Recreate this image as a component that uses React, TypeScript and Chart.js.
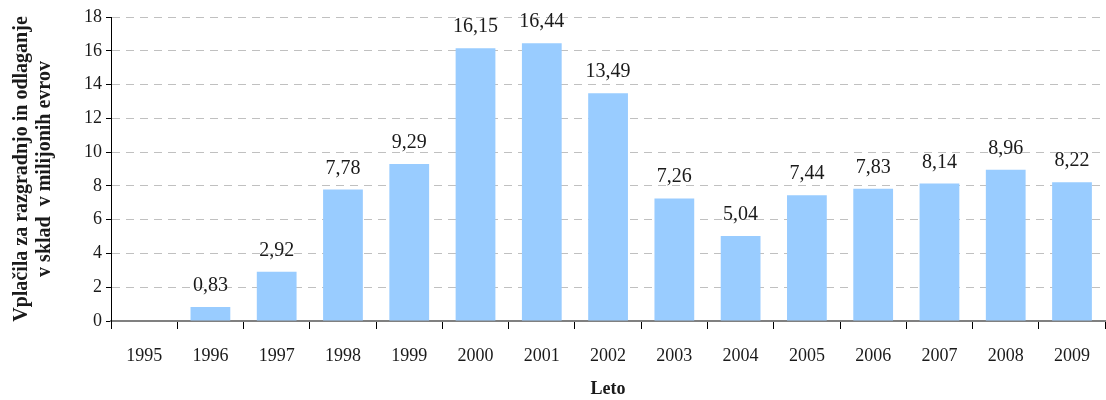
import React, { useEffect, useRef } from "react";
import { Chart, registerables } from "chart.js";

Chart.register(...registerables);

const years = ["1995", "1996", "1997", "1998", "1999", "2000", "2001", "2002", "2003", "2004", "2005", "2006", "2007", "2008", "2009"];
const payments: (number | null)[] = [null, 0.83, 2.92, 7.78, 9.29, 16.15, 16.44, 13.49, 7.26, 5.04, 7.44, 7.83, 8.14, 8.96, 8.22];
const yTitle = ["Vplačila za razgradnjo in odlaganje", "v sklad  v milijonih evrov"];
const xTitle = "Leto";

const FONT = "'Liberation Serif', 'Times New Roman', serif";

const labelPlugin = {
  id: "barLabels",
  afterDatasetsDraw(chart: any) {
    const ctx = chart.ctx;
    const meta = chart.getDatasetMeta(0);
    ctx.save();
    ctx.font = `20px ${FONT}`;
    ctx.fillStyle = "#1a1a1a";
    ctx.textAlign = "center";
    ctx.textBaseline = "alphabetic";
    meta.data.forEach((el: any, i: number) => {
      const v = payments[i];
      if (v == null) return;
      ctx.fillText(v.toFixed(2).replace(".", ","), el.x, el.y - 16);
    });
    ctx.restore();
  },
};

export default function App() {
  const ref = useRef<HTMLCanvasElement>(null);
  useEffect(() => {
    document.body.style.margin = "0";
    const chart = new Chart(ref.current!, {
      type: "bar",
      data: {
        labels: years,
        datasets: [
          {
            data: payments as any,
            backgroundColor: "#99CCFF",
            barPercentage: 0.6,
            categoryPercentage: 1,
          },
        ],
      },
      options: {
        responsive: false,
        animation: false,
        layout: { padding: { top: 17, right: 0, left: 0, bottom: 0 } },
        plugins: { legend: { display: false }, tooltip: { enabled: false } },
        scales: {
          x: {
            afterFit(scale: any) {
              scale.height = 79;
            },
            border: { display: true, color: "#808080", width: 2 },
            grid: {
              display: true,
              offset: true,
              drawOnChartArea: false,
              drawTicks: true,
              tickLength: 8,
              color: "#000",
            },
            ticks: { color: "#1a1a1a", font: { family: FONT, size: 18 }, padding: 16 },
            title: {
              display: true,
              text: xTitle,
              color: "#1a1a1a",
              font: { family: FONT, size: 18, weight: "bold" },
              padding: { top: 6, bottom: 0 },
            },
          },
          y: {
            min: 0,
            max: 18,
            afterFit(scale: any) {
              scale.width = 111;
            },
            border: { display: true, color: "#000", width: 1, dash: [8, 6] },
            grid: {
              color: "#C0C0C0",
              tickColor: "#000",
              tickLength: 5,
              tickBorderDash: [],
              drawTicks: true,
            },
            ticks: { stepSize: 2, color: "#1a1a1a", font: { family: FONT, size: 18 }, padding: 4 },
            title: {
              display: true,
              text: yTitle,
              color: "#1a1a1a",
              font: { family: FONT, size: 20, weight: "bold", lineHeight: 1.15 },
              padding: { top: 10, bottom: 4 },
            },
          },
        },
      },
      plugins: [labelPlugin],
    } as any);
    return () => chart.destroy();
  }, []);
  return (
    <div style={{ width: 1106, height: 400 }}>
      <canvas ref={ref} width={1106} height={400} />
    </div>
  );
}
